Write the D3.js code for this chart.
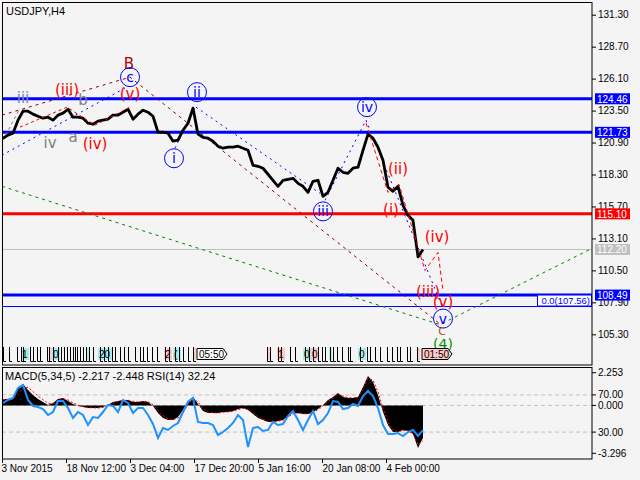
<!DOCTYPE html>
<html><head><meta charset="utf-8">
<script src="https://cdn.jsdelivr.net/npm/d3@7"></script>
<style>
body{margin:0;background:#f4f4f4;}
text{font-family:"Liberation Sans",Arial,sans-serif;}
</style></head><body>
<script>
// ---- data (one sample every 5 H4 bars, first at bar 1)
var symbol = "USDJPY,H4";
var sampleStep = 5;
var closes = [
 121.25,121.50,121.66,122.72,123.45,123.45,123.21,123.04,122.88,122.96,
 122.72,123.13,123.29,123.61,122.96,122.96,122.88,122.47,122.39,122.64,
 122.72,122.80,123.13,123.13,123.37,123.61,122.80,123.21,123.53,123.37,
 123.04,121.74,121.74,121.66,121.01,121.09,121.90,122.47,123.70,121.58,
 121.33,121.25,121.01,120.60,120.44,120.52,120.52,120.60,120.44,120.27,
 119.05,118.97,118.81,118.32,117.83,117.34,117.83,117.91,117.99,117.58,
 117.34,116.85,117.75,117.83,116.52,116.85,117.83,118.81,118.48,118.40,
 118.81,118.89,120.27,121.58,121.25,120.52,119.46,117.26,116.93,117.34,
 115.79,114.98,114.57,111.60,112.20];
var macd = [
 0.44,0.44,0.51,1.20,1.47,1.06,0.72,0.44,0.23,0.03,
 0.17,0.44,0.51,0.30,0.10,-0.04,-0.11,-0.18,-0.18,-0.18,
 -0.11,0.03,0.23,0.30,0.37,0.37,0.23,0.23,0.30,0.23,
 -0.04,-0.52,-0.87,-1.00,-1.00,-0.80,-0.32,0.30,0.58,0.10,
 -0.39,-0.52,-0.52,-0.52,-0.45,-0.45,-0.39,-0.25,-0.18,-0.32,
 -0.59,-0.87,-1.00,-1.14,-1.14,-1.07,-1.00,-0.73,-0.52,-0.52,
 -0.59,-0.59,-0.45,-0.25,0.03,0.37,0.58,0.85,0.58,0.51,
 0.51,0.58,1.27,2.02,1.61,0.72,-0.45,-1.35,-1.83,-1.83,
 -1.69,-1.76,-1.97,-2.93,-2.217];
var signal = [
 0.40,0.42,0.46,0.80,1.20,1.25,0.95,0.65,0.40,0.15,
 0.12,0.32,0.45,0.38,0.18,0.02,-0.08,-0.15,-0.17,-0.18,
 -0.14,-0.04,0.12,0.25,0.33,0.36,0.28,0.24,0.27,0.25,
 0.05,-0.35,-0.70,-0.92,-0.98,-0.86,-0.50,0.05,0.45,0.25,
 -0.22,-0.45,-0.51,-0.52,-0.47,-0.45,-0.41,-0.30,-0.20,-0.28,
 -0.50,-0.78,-0.95,-1.10,-1.13,-1.09,-1.02,-0.80,-0.58,-0.53,
 -0.57,-0.58,-0.48,-0.30,-0.05,0.28,0.50,0.78,0.65,0.53,
 0.51,0.56,1.10,1.85,1.75,0.95,-0.20,-1.15,-1.70,-1.82,
 -1.72,-1.75,-1.92,-2.70,-2.448];
var rsi = [
 61.3,64.5,66.7,77.4,80.6,64.5,58.1,57.0,54.8,48.4,
 51.6,63.4,63.4,55.9,45.2,51.6,48.4,37.6,46.2,45.2,
 51.6,59.1,58.1,51.6,64.5,61.3,50.5,55.9,55.9,48.4,
 38.7,23.7,34.4,32.3,36.6,39.8,51.6,62.4,66.7,40.9,
 39.8,39.8,37.6,26.9,30.1,34.4,39.8,48.4,43.0,14.0,
 34.4,35.5,31.2,32.3,40.9,37.6,38.7,47.3,52.7,43.0,
 32.3,43.0,52.7,38.7,43.0,50.5,63.4,62.4,54.8,55.9,
 60.2,58.1,68.8,74.2,68.8,55.9,37.6,28.0,28.0,29.0,
 25.8,30.1,32.3,25.8,32.24];

var timeTicks = [0,64,128,192,256,320,384];
var timeLabels = ["3 Nov 2015","18 Nov 12:00","3 Dec 04:00","17 Dec 20:00","5 Jan 16:00","20 Jan 08:00","4 Feb 00:00"];
var priceTicks = [131.30,128.70,126.10,123.50,120.90,118.30,115.70,113.10,110.50,107.90,105.30];
var levels = [124.46,121.73,115.10,112.20,108.49];
var levelKinds = ["blue","blue","red","bid","blue"];
var fiboLevel = 107.56;
var oscTicks = [["2.253","macd",2.253],["70.00","rsi",70],["0.000","macd",0],["30.00","rsi",30],["-3.296","macd",-3.296]];

// wave labels: text, bar, price, kind
var waves = [
 ["iii",21,124.59,"greyblue"],["iv",48,120.93,"grey"],["a",71,121.42,"grey"],["b",81,124.43,"grey"],
 ["(iii)",65,125.24,"red"],["(iv)",93,120.84,"red"],["(v)",128,124.92,"red"],
 ["B",127,127.36,"darkred"],["c",128,126.22,"circle"],
 ["i",172,119.62,"circle"],["ii",195,125.00,"circle"],["iii",321,115.30,"circle"],["iv",365,123.78,"circle"],
 ["(i)",389,115.47,"red"],["(ii)",396,118.81,"red"],["(iii)",426,108.79,"red"],["(iv)",435,113.27,"red"],
 ["(v)",441,107.97,"red"],["v",441,106.58,"circle"],["C",440,105.55,"brown"],["(4)",441,104.50,"green"]];
var darkRedWave = [[0,123.13],[128,126.22],[440,106.01]];
var blueWaves = [
 [[0,119.87],[123,125.33]],[[173,120.44],[193,123.78]],[[194,123.78],[318,116.77]],
 [[323,116.20],[364,122.72]],[[364,122.72],[441,107.40]]];
var redWaveL = [[18,122.15],[65,123.78],[93,122.31],[128,123.78]];
var redWaveR = [[364,122.48],[386,116.85],[397,117.50],[423,110.49],[436,111.96],[441,108.86]];
var greenWave = [[0,117.34],[438,106.09],[590,112.29]];
var greyWave = [[1,121.09],[18,123.70]];

// news markers under the price
var eventBars = [1,7,15,19,21,28,31,35,38,45,47,51,56,59,62,65,68,71,73,75,78,81,84,87,91,98,102,106,110,113,118,122,126,133,138,141,145,150,155,163,167,173,177,181,186,191,265,268,276,279,288,293,303,307,311,316,320,323,328,331,335,340,346,348,358,365,368,373,378,385,390,395,398,405,408,415];
var eventTags = [[19,"1","c"],[47,"","p"],[50,"0","c"],[84,"","c"],[96,"20","c"],[162,"2","p"],[171,"(","c"],[191,"","p"],[266,"","p"],[275,"1","p"],[301,"0","c"],[309,"0","p"],[327,"","c"],[356,"0","c"],[415,"","p"]];
var timeBoxes = [[195,"05:50","#ffffff"],[420,"01:50","#ffc8c8"]];

var W = 640, H = 480;
var svg = d3.select("body").append("svg").attr("width",W).attr("height",H)
    .style("background","#f4f4f4");

var x = d3.scaleLinear().domain([0,590]).range([2,592]);
var y = d3.scaleLinear().domain([105.30,131.30]).range([334.3,14.7]);
var ym = d3.scaleLinear().domain([-3.296,2.253]).range([453.3,372.7]);
var yr = d3.scaleLinear().domain([0,100]).range([460,367]);
function bx(i){ return x(1 + i*sampleStep); }

var defs = svg.append("defs");
defs.append("clipPath").attr("id","mainClip").append("rect").attr("x",2).attr("y",2).attr("width",590).attr("height",363);
defs.append("clipPath").attr("id","oscClip").append("rect").attr("x",2).attr("y",367).attr("width",590).attr("height",92);

var main = svg.append("g").attr("clip-path","url(#mainClip)");

//horizontal levels
var levelColor = {blue:"#0000ff",red:"#ff0000",bid:"#c0c0c0"};
main.selectAll(".lvl").data(levels).enter().append("line")
    .attr("x1",2).attr("x2",592)
    .attr("y1",function(d){return y(d);}).attr("y2",function(d){return y(d);})
    .attr("stroke",function(d,i){return levelColor[levelKinds[i]];})
    .attr("stroke-width",function(d,i){return levelKinds[i]=="bid"?1:3;});
main.append("line").attr("x1",2).attr("x2",592).attr("y1",y(fiboLevel)).attr("y2",y(fiboLevel))
    .attr("stroke","#0000ff").attr("stroke-width",1);

//wave lines
var wl = d3.line().x(function(d){return x(d[0]);}).y(function(d){return y(d[1]);});
main.append("path").attr("d",wl(greenWave)).attr("fill","none").attr("stroke","#008000").attr("stroke-dasharray","3,4");
main.append("path").attr("d",wl(darkRedWave)).attr("fill","none").attr("stroke","#900000").attr("stroke-dasharray","3,4");
main.append("path").attr("d",wl(greyWave)).attr("fill","none").attr("stroke","#808080").attr("stroke-dasharray","3,3");
blueWaves.forEach(function(s){
    main.append("path").attr("d",wl(s)).attr("fill","none").attr("stroke","#0000ff").attr("stroke-dasharray","2,4");
});

//price
main.append("path").datum(closes)
    .attr("d",d3.line().x(function(d,i){return bx(i);}).y(function(d){return y(d);}))
    .attr("fill","none").attr("stroke","#000").attr("stroke-width",2.8).attr("stroke-linejoin","round");

main.append("path").attr("d",wl(redWaveL)).attr("fill","none").attr("stroke","#ff0000").attr("stroke-dasharray","3,3");
main.append("path").attr("d",wl(redWaveR)).attr("fill","none").attr("stroke","#ff0000").attr("stroke-dasharray","4,3");

//wave labels
var wColor = {grey:"#808080",greyblue:"#7888b8",red:"#ff0000",darkred:"#b00000",circle:"#0000ff",brown:"#b05020",green:"#009000"};
var wSize = {circle:"14px",brown:"11px",green:"14px"};
waves.forEach(function(w){
    var cx = x(w[1]), cy = y(w[2]);
    if (w[3]=="circle") {
	main.append("circle").attr("cx",cx).attr("cy",cy).attr("r",9.5)
	    .attr("fill","none").attr("stroke","#0000ff");
    }
    main.append("text").attr("x",cx).attr("y",cy).attr("dy","0.36em")
	.attr("text-anchor","middle")
	.style("font-family","'DejaVu Sans',sans-serif")
	.style("font-size", wSize[w[3]] || "15px")
	.attr("fill",wColor[w[3]]).text(w[0]);
});

//news markers
var ev = main.append("g");
eventTags.forEach(function(t){
    var wd = t[1].length ? t[1].length*6+2 : 3;
    ev.append("rect").attr("x",x(t[0])).attr("y",348).attr("width",wd).attr("height",12)
	.attr("fill",t[2]=="c"?"#a8ecec":"#ffc8c8");
    if (t[1]) ev.append("text").attr("x",x(t[0])+1).attr("y",358).style("font-size","10px").text(t[1]);
});
eventBars.forEach(function(b){
    ev.append("path").attr("d","M"+(x(b)+0.5)+",347V361.5H"+(x(b)+3))
	.attr("fill","none").attr("stroke","#000");
});
timeBoxes.forEach(function(t){
    var x0 = x(t[0]);
    ev.append("path").attr("d","M"+x0+",348.5H"+(x0+26)+"L"+(x0+30)+",354L"+(x0+26)+",359.5H"+x0+"Z")
	.attr("fill",t[2]).attr("stroke","#000");
    ev.append("text").attr("x",x0+2).attr("y",358).style("font-size","10px").text(t[1]);
});

//oscillator panel
var osc = svg.append("g").attr("clip-path","url(#oscClip)");
[70,30].forEach(function(v){
    osc.append("line").attr("x1",2).attr("x2",592).attr("y1",yr(v)).attr("y2",yr(v))
	.attr("stroke","#c0c0c0").attr("stroke-dasharray","4,3");
});
osc.append("line").attr("x1",2).attr("x2",592).attr("y1",ym(0)).attr("y2",ym(0))
    .attr("stroke","#c0c0c0").attr("stroke-dasharray","4,3");
osc.append("path").datum(macd)
    .attr("d",d3.area().x(function(d,i){return bx(i);}).y0(ym(0)).y1(function(d){return ym(d);}))
    .attr("fill","#000");
osc.append("path").datum(signal)
    .attr("d",d3.line().x(function(d,i){return bx(i);}).y(function(d){return ym(d);}))
    .attr("fill","none").attr("stroke","#ff0000").attr("stroke-dasharray","2,2");
osc.append("path").datum(rsi)
    .attr("d",d3.line().x(function(d,i){return bx(i);}).y(function(d){return yr(d);}))
    .attr("fill","none").attr("stroke","#1e90ff").attr("stroke-width",2);

//frames
svg.append("rect").attr("x",2.5).attr("y",2.5).attr("width",589.5).attr("height",362.5)
    .attr("fill","none").attr("stroke","#000");
svg.append("rect").attr("x",2.5).attr("y",367.5).attr("width",589.5).attr("height",91.5)
    .attr("fill","none").attr("stroke","#000");

//price axis
var pa = svg.append("g").attr("transform","translate(592,0)")
    .call(d3.axisRight(y).tickValues(priceTicks).tickSize(4).tickSizeOuter(0).tickFormat(d3.format(".2f")));
pa.select(".domain").remove();
pa.selectAll("text").style("font-size","10px").style("font-family","'Liberation Sans',Arial").attr("x",6);

//level tags (they sit on top of the tick labels, as in the terminal)
levels.forEach(function(v,i){
    var c = levelKinds[i]=="bid" ? "#c0c0c0" : levelColor[levelKinds[i]];
    svg.append("rect").attr("x",595).attr("y",y(v)-5.5).attr("width",35).attr("height",11).attr("fill",c);
    svg.append("text").attr("x",597).attr("y",y(v)+4).attr("fill","#fff").style("font-size","10px")
	.text(d3.format(".2f")(v));
});
svg.append("rect").attr("x",537.5).attr("y",y(fiboLevel)-11.5).attr("width",54).attr("height",11)
    .attr("fill","#fff").attr("stroke","#0000ff");
svg.append("text").attr("x",590).attr("y",y(fiboLevel)-2.5).attr("text-anchor","end")
    .attr("fill","#0000ff").style("font-size","9.5px").text("0.0("+fiboLevel.toFixed(2)+")");

//oscillator axis
oscTicks.forEach(function(t){
    var yy = t[1]=="rsi" ? yr(t[2]) : ym(t[2]);
    svg.append("line").attr("x1",592).attr("x2",596).attr("y1",yy).attr("y2",yy).attr("stroke","#000");
    svg.append("text").attr("x",598).attr("y",yy+3.5).style("font-size","10px").text(t[0]);
});

//time axis
var ta = svg.append("g").attr("transform","translate(0,459)")
    .call(d3.axisBottom(x).tickValues(timeTicks).tickSize(4).tickSizeOuter(0)
	  .tickFormat(function(d,i){return timeLabels[i];}));
ta.select(".domain").remove();
ta.selectAll("text").attr("text-anchor","start").attr("x",0).attr("y",6).attr("dy","0.71em")
    .style("font-size","10px").style("font-family","'Liberation Sans',Arial");
ta.select(".tick text").attr("x",-1);

//titles
svg.append("text").attr("x",6).attr("y",15).style("font-size","11px").text(symbol);
svg.append("text").attr("x",5).attr("y",380).style("font-size","11px")
    .text("MACD(5,34,5) "+macd[macd.length-1].toFixed(3)+" "+signal[signal.length-1].toFixed(3)
	  +" RSI(14) "+rsi[rsi.length-1].toFixed(2));
</script>
</body></html>
